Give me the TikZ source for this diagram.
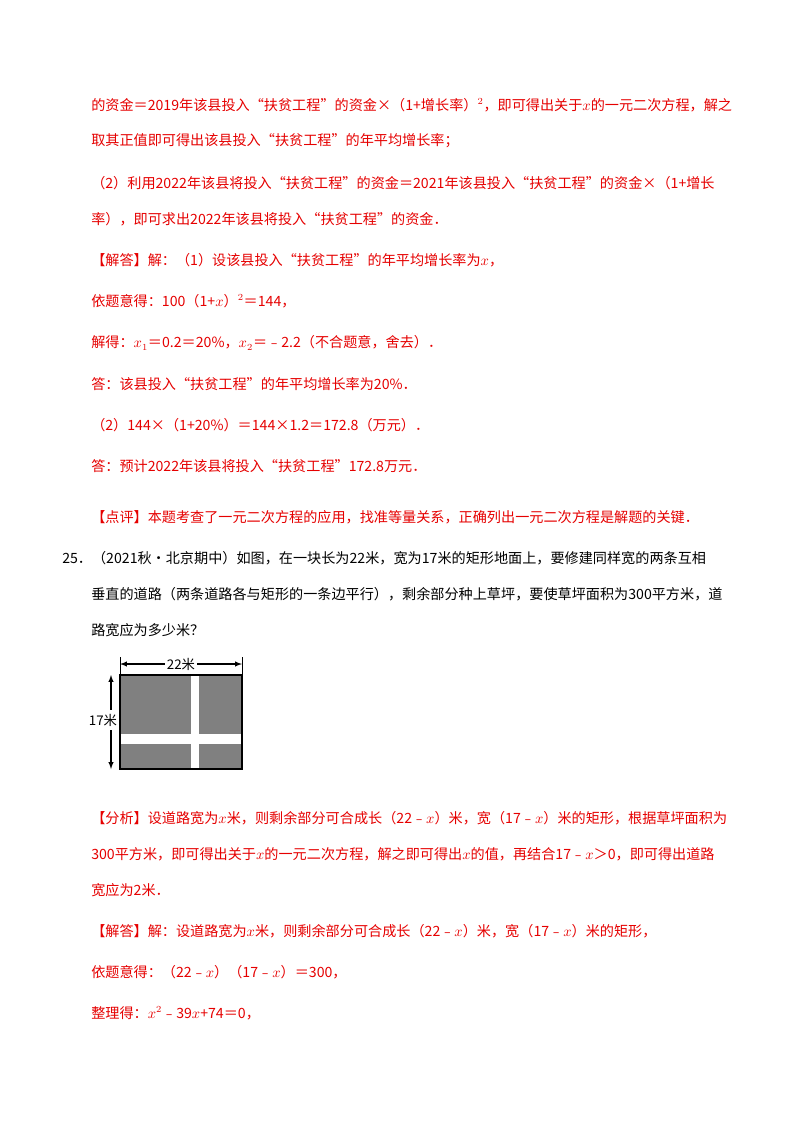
\documentclass[tikz,border=0pt]{standalone}
\usepackage{fontspec}
\setmainfont{Noto Sans CJK SC}
\definecolor{ansred}{RGB}{230,0,0}
\definecolor{grass}{RGB}{128,128,128}
\newcommand{\xv}{\ensuremath{x}}
\begin{document}
\begin{tikzpicture}[x=0.75pt,y=-0.75pt,
  ln/.style={anchor=west,inner sep=0pt,font=\fontsize{10.6}{12}\selectfont,text=ansred},
  bl/.style={ln,text=black},
  dim/.style={<->,>=latex,line width=0.8pt}]
\useasboundingbox[fill=white] (0,0) rectangle (800,1132);
\node[ln] (l1) at (91,105) {的资金＝2019年该县投入“扶贫工程”的资金×（1+增长率）$^{2}$，即可得出关于\xv 的一元二次方程，解之};
\node[ln] (l2) at (91,141) {取其正值即可得出该县投入“扶贫工程”的年平均增长率；};
\node[ln] (l3) at (91,183) {（2）利用2022年该县将投入“扶贫工程”的资金＝2021年该县投入“扶贫工程”的资金×（1+增长};
\node[ln] (l4) at (91,219) {率），即可求出2022年该县将投入“扶贫工程”的资金．};
\node[ln] (l5) at (91,260) {【解答】解：（1）设该县投入“扶贫工程”的年平均增长率为\xv，};
\node[ln] (l6) at (91,301) {依题意得：100（1+\xv）$^{2}$＝144，};
\node[ln] (l7) at (91,343) {解得：$x_1$＝0.2＝20\%，$x_2$＝﹣2.2（不合题意，舍去）．};
\node[ln] (l8) at (91,384) {答：该县投入“扶贫工程”的年平均增长率为20\%．};
\node[ln] (l9) at (91,425) {（2）144×（1+20\%）＝144×1.2＝172.8（万元）．};
\node[ln] (l10) at (91,466) {答：预计2022年该县将投入“扶贫工程”172.8万元．};
\node[ln] (l11) at (91,517) {【点评】本题考查了一元二次方程的应用，找准等量关系，正确列出一元二次方程是解题的关键．};
\node[bl] (l12) at (62,558) {25．（2021秋•北京期中）如图，在一块长为22米，宽为17米的矩形地面上，要修建同样宽的两条互相};
\node[bl] (l13) at (91,594) {垂直的道路（两条道路各与矩形的一条边平行），剩余部分种上草坪，要使草坪面积为300平方米，道};
\node[bl] (l14) at (91,630) {路宽应为多少米？};
% figure
\fill[grass] (120,675) rectangle (242,769);
\fill[white] (191,675) rectangle (199,769);
\fill[white] (120,734) rectangle (242,744);
\draw[line width=1pt] (120,675) rectangle (242,769);
\draw[line width=0.6pt] (120,657) -- (120,675) (242,657) -- (242,675);
\node[bl,anchor=center,fill=white,inner sep=1pt,font=\fontsize{10}{12}\selectfont] (w) at (181,664) {22米};
\draw[dim,<-] (120,664) -- (w.west);
\draw[dim,<-] (242,664) -- (w.east);
\node[bl,anchor=center,fill=white,inner sep=1pt,font=\fontsize{10}{12}\selectfont] (h) at (103,720) {17米};
\draw[dim,<-] (111,675) -- (111,710);
\draw[dim,<-] (111,769) -- (111,730);
\node[ln] (l15) at (91,818) {【分析】设道路宽为\xv 米，则剩余部分可合成长（22﹣\xv）米，宽（17﹣\xv）米的矩形，根据草坪面积为};
\node[ln] (l16) at (91,854) {300平方米，即可得出关于\xv 的一元二次方程，解之即可得出\xv 的值，再结合17﹣\xv＞0，即可得出道路};
\node[ln] (l17) at (91,890) {宽应为2米．};
\node[ln] (l18) at (91,931) {【解答】解：设道路宽为\xv 米，则剩余部分可合成长（22﹣\xv）米，宽（17﹣\xv）米的矩形，};
\node[ln] (l19) at (91,972) {依题意得：（22﹣\xv）（17﹣\xv）＝300，};
\node[ln] (l20) at (91,1013) {整理得：$x^{2}$﹣39\xv+74＝0，};
\end{tikzpicture}
\end{document}
